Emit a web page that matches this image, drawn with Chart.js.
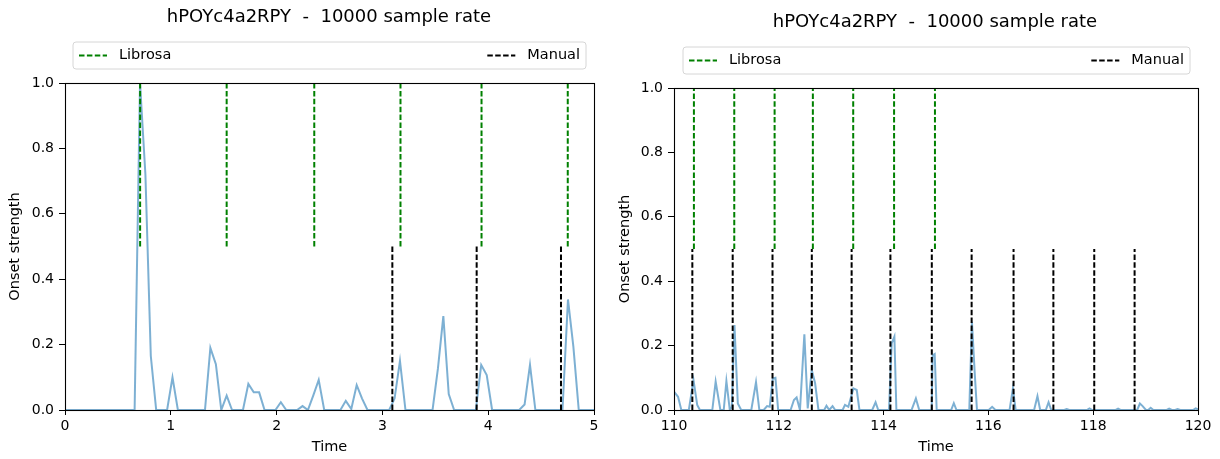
<!DOCTYPE html>
<html>
<head>
<meta charset="utf-8">
<script src="https://cdn.jsdelivr.net/npm/chart.js@4.4.1/dist/chart.umd.min.js"></script>
<style>
  html, body { margin: 0; padding: 0; background: #fff; }
  body { width: 1220px; height: 459px; position: relative; overflow: hidden; }
  canvas { position: absolute; top: 0; }
  #c1 { left: 0; }
  #c2 { left: 610px; }
</style>
</head>
<body>
<canvas id="c1" width="610" height="459"></canvas>
<canvas id="c2" width="610" height="459"></canvas>
<script>
// ---------- DATA ----------
const chartTitle = "hPOYc4a2RPY  -  10000 sample rate";
const seriesNames = ["Librosa", "Manual"];

// Left panel (0–5 s)
const leftTimes = [0, 0.658, 0.709, 0.760, 0.811, 0.862, 0.965, 1.016, 1.067, 1.323, 1.374, 1.426, 1.477, 1.528, 1.579,
  1.682, 1.733, 1.784, 1.835, 1.886, 1.989, 2.040, 2.091, 2.194, 2.245, 2.296, 2.347, 2.398, 2.450,
  2.603, 2.654, 2.706, 2.757, 2.808, 2.859, 3.064, 3.115, 3.166, 3.218, 3.474, 3.525, 3.576, 3.627, 3.678,
  3.883, 3.934, 3.986, 4.037, 4.293, 4.344, 4.395, 4.446, 4.702, 4.754, 4.805, 4.856, 5.0];
const leftStrength = [0, 0, 1.0, 0.72, 0.165, 0, 0, 0.10, 0, 0, 0.19, 0.14, 0, 0.044, 0,
  0, 0.08, 0.054, 0.054, 0, 0, 0.024, 0, 0, 0.012, 0, 0.045, 0.092, 0,
  0, 0.028, 0.003, 0.076, 0.035, 0, 0, 0.035, 0.15, 0, 0, 0.127, 0.287, 0.049, 0,
  0, 0.138, 0.107, 0, 0, 0.017, 0.138, 0, 0, 0.338, 0.194, 0, 0];
const leftLibrosa = [0.71, 1.528, 2.356, 3.171, 3.937, 4.752];
const leftManual = [3.094, 3.891, 4.688];
const leftXTicks = [0, 1, 2, 3, 4, 5];

// Right panel (110–120 s)
const rightTimes = [110.0, 110.077, 110.14, 110.283, 110.372, 110.443, 110.494, 110.731, 110.795, 110.885, 110.949, 111.0,
  111.065, 111.103, 111.154, 111.218, 111.283, 111.475, 111.565, 111.629, 111.712, 111.776, 111.827, 111.885, 111.936,
  111.988, 112.225, 112.289, 112.34, 112.404, 112.488, 112.552, 112.629, 112.693, 112.757, 112.866, 112.91, 112.962,
  113.026, 113.077, 113.218, 113.263, 113.327, 113.424, 113.488, 113.539, 113.783, 113.847, 113.898, 114.103, 114.154,
  114.206, 114.244, 114.533, 114.616, 114.68, 114.917, 114.936, 114.975, 115.013, 115.289, 115.34, 115.391, 115.635,
  115.686, 115.737, 115.782, 116.007, 116.071, 116.135, 116.404, 116.468, 116.52, 116.872, 116.936, 116.988, 117.096,
  117.148, 117.199, 117.449, 117.494, 117.545, 117.878, 117.93, 117.981, 118.43, 118.475, 118.52, 118.84, 118.891,
  118.943, 119.007, 119.05, 119.097, 119.148, 119.404, 119.45, 119.5, 119.565, 119.61, 119.66, 119.905, 119.955, 120.0];
const rightStrength = [0.057, 0.041, 0, 0, 0.093, 0.016, 0, 0, 0.088, 0, 0, 0.090,
  0, 0.01, 0.264, 0.02, 0, 0, 0.086, 0, 0, 0.012, 0.01, 0.098, 0.10,
  0, 0, 0.031, 0.039, 0, 0.235, 0.005, 0.124, 0.083, 0, 0, 0.013, 0,
  0.012, 0, 0, 0.016, 0.01, 0.067, 0.062, 0, 0, 0.024, 0, 0, 0.207,
  0.228, 0, 0, 0.036, 0, 0, 0.17, 0.174, 0, 0, 0.021, 0, 0,
  0.274, 0.12, 0, 0, 0.01, 0, 0, 0.067, 0, 0, 0.043, 0, 0,
  0.024, 0, 0, 0.003, 0, 0, 0.005, 0, 0, 0.004, 0, 0, 0.02,
  0.012, 0, 0, 0.007, 0, 0, 0.004, 0, 0, 0.003, 0, 0, 0.005, 0.002];
const rightLibrosa = [110.38, 111.15, 111.92, 112.65, 113.42, 114.2, 114.98];
const rightManual = [110.35, 111.12, 111.88, 112.63, 113.39, 114.13, 114.92, 115.68, 116.48, 117.24, 118.02, 118.79];
const rightXTicks = [110, 112, 114, 116, 118, 120];

const yTicks = [0.0, 0.2, 0.4, 0.6, 0.8, 1.0];
const librosaRange = [0.5, 1.0];
const manualRange = [0.0, 0.5];

// ---------- STYLE / RENDER ----------
const FONT = "'DejaVu Sans', 'Liberation Sans', sans-serif";
Chart.defaults.font.family = FONT;
Chart.defaults.color = '#000';
const GREEN = '#008000';
const BLACK = '#000000';
const CURVE = 'rgba(31,119,180,0.58)';
const DASH = [5.5, 2.4];
const TICK_SIZE = 14;
const LABEL_SIZE = 14.5;

function vlineSets(xs, range, color) {
  return xs.map(t => ({
    data: [{x: t, y: range[0]}, {x: t, y: range[1]}],
    borderColor: color, borderWidth: 2, borderDash: DASH,
    pointRadius: 0, fill: false, order: 0
  }));
}

const decoPlugin = {
  id: 'deco',
  afterDatasetsDraw(chart, args, opts) {
    const {ctx, chartArea: a} = chart;
    ctx.save();
    ctx.strokeStyle = '#000';
    ctx.lineWidth = 1.1;
    ctx.setLineDash([]);
    ctx.strokeRect(Math.round(a.left) + 0.5, Math.round(a.top) + 0.5,
      Math.round(a.right) - Math.round(a.left), Math.round(a.bottom) - Math.round(a.top));
    ctx.restore();
  },
  afterDraw(chart, args, opts) {
    const ctx = chart.ctx;
    ctx.save();
    // title
    ctx.fillStyle = '#000';
    ctx.font = "18px " + FONT;
    ctx.textAlign = 'center';
    ctx.textBaseline = 'middle';
    ctx.fillText(opts.title, opts.titleX, opts.titleY);
    // legend box
    const [x0, y0, x1, y1] = opts.legendBox;
    const r = 3;
    ctx.beginPath();
    ctx.moveTo(x0 + r, y0);
    ctx.lineTo(x1 - r, y0); ctx.arcTo(x1, y0, x1, y0 + r, r);
    ctx.lineTo(x1, y1 - r); ctx.arcTo(x1, y1, x1 - r, y1, r);
    ctx.lineTo(x0 + r, y1); ctx.arcTo(x0, y1, x0, y1 - r, r);
    ctx.lineTo(x0, y0 + r); ctx.arcTo(x0, y0, x0 + r, y0, r);
    ctx.closePath();
    ctx.fillStyle = 'rgba(255,255,255,0.8)';
    ctx.fill();
    ctx.strokeStyle = '#d6d6d6';
    ctx.lineWidth = 1;
    ctx.stroke();
    const cy = (y0 + y1) / 2;
    ctx.font = LABEL_SIZE + "px " + FONT;
    ctx.textBaseline = 'middle';
    // entry 1 (left)
    ctx.setLineDash(DASH);
    ctx.lineWidth = 2;
    ctx.strokeStyle = GREEN;
    ctx.beginPath(); ctx.moveTo(x0 + 6, cy); ctx.lineTo(x0 + 34, cy); ctx.stroke();
    ctx.fillStyle = '#000';
    ctx.textAlign = 'left';
    ctx.fillText(seriesNames[0], x0 + 46, cy);
    // entry 2 (right)
    const w = ctx.measureText(seriesNames[1]).width;
    const tx = x1 - 6 - w;
    ctx.strokeStyle = BLACK;
    ctx.beginPath(); ctx.moveTo(tx - 40, cy); ctx.lineTo(tx - 12, cy); ctx.stroke();
    ctx.setLineDash([]);
    ctx.fillText(seriesNames[1], tx, cy);
    ctx.restore();
  }
};

function makeChart(id, cfg) {
  const curve = cfg.times.map((t, i) => ({x: t, y: cfg.values[i]}));
  const datasets = [
    ...vlineSets(cfg.librosa, librosaRange, GREEN),
    ...vlineSets(cfg.manual, manualRange, BLACK),
    {data: curve, borderColor: CURVE, borderWidth: 2, pointRadius: 0, fill: false, tension: 0, order: 1}
  ];
  return new Chart(document.getElementById(id), {
    type: 'line',
    data: {datasets},
    options: {
      responsive: false,
      animation: false,
      events: [],
      layout: {padding: {top: cfg.top, right: cfg.right, left: 0, bottom: 0}},
      plugins: {
        legend: {display: false},
        title: {display: false},
        tooltip: {enabled: false},
        deco: {title: chartTitle, titleX: cfg.titleX, titleY: cfg.titleY, legendBox: cfg.legendBox}
      },
      scales: {
        x: {
          type: 'linear', min: cfg.xTicks[0], max: cfg.xTicks[cfg.xTicks.length - 1],
          afterBuildTicks: s => { s.ticks = cfg.xTicks.map(v => ({value: v})); },
          ticks: {font: {size: TICK_SIZE}, color: '#000', padding: 3, maxRotation: 0, autoSkip: false,
                  callback: v => String(v)},
          grid: {drawOnChartArea: false, drawTicks: true, tickLength: 5, color: '#000', tickWidth: 1},
          border: {display: false},
          title: {display: true, text: 'Time', font: {size: LABEL_SIZE}, color: '#000', padding: {top: 0, bottom: 3}},
          afterFit: s => { s.height = 459 - cfg.bottom; }
        },
        y: {
          min: 0, max: 1,
          afterBuildTicks: s => { s.ticks = yTicks.map(v => ({value: v})); },
          ticks: {font: {size: TICK_SIZE}, color: '#000', padding: 5, callback: v => Number(v).toFixed(1)},
          grid: {drawOnChartArea: false, drawTicks: true, tickLength: 6, color: '#000', tickWidth: 1},
          border: {display: false},
          title: {display: true, text: 'Onset strength', font: {size: LABEL_SIZE}, color: '#000', padding: {top: 7, bottom: 0}},
          afterFit: s => { s.width = cfg.left; }
        }
      }
    },
    plugins: [decoPlugin]
  });
}

makeChart('c1', {
  times: leftTimes, values: leftStrength, librosa: leftLibrosa, manual: leftManual, xTicks: leftXTicks,
  top: 83, bottom: 410, left: 65, right: 610 - 594,
  titleX: 329, titleY: 17, legendBox: [73, 42, 586, 69]
});
makeChart('c2', {
  times: rightTimes, values: rightStrength, librosa: rightLibrosa, manual: rightManual, xTicks: rightXTicks,
  top: 88, bottom: 410, left: 64, right: 610 - 588,
  titleX: 325, titleY: 22, legendBox: [73, 47, 580, 74]
});
</script>
</body>
</html>
